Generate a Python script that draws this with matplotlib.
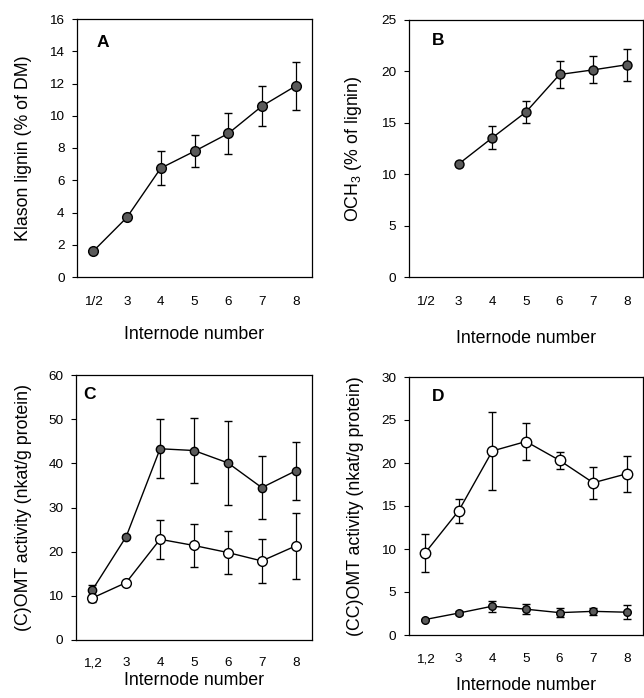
import matplotlib
matplotlib.use("Agg")
import matplotlib.pyplot as plt
import numpy as np

plt.rcParams['font.family'] = ['Liberation Sans', 'DejaVu Sans']
plt.rcParams['mathtext.fontset'] = 'custom'
plt.rcParams['mathtext.rm'] = 'Liberation Sans'
plt.rcParams['mathtext.it'] = 'Liberation Sans:italic'
plt.rcParams['mathtext.bf'] = 'Liberation Sans:bold'

# ---------------- data ----------------
labels_ab = ['1/2', '3', '4', '5', '6', '7', '8']
labels_cd = ['1,2', '3', '4', '5', '6', '7', '8']

klason = [1.6, 3.7, 6.75, 7.8, 8.9, 10.6, 11.85]
klason_err = [0.1, 0.1, 1.05, 1.0, 1.3, 1.25, 1.5]

och3 = [np.nan, 11.0, 13.55, 16.05, 19.7, 20.15, 20.65]
och3_err = [np.nan, 0.2, 1.1, 1.05, 1.35, 1.3, 1.55]

comt_filled = [11.3, 23.4, 43.3, 42.9, 40.1, 34.5, 38.3]
comt_filled_err = [1.1, 0.4, 6.7, 7.4, 9.5, 7.1, 6.6]
comt_open = [9.5, 13.0, 22.8, 21.4, 19.8, 17.9, 21.3]
comt_open_err = [0.8, 0.3, 4.4, 4.9, 4.8, 5.0, 7.5]

ccomt_open = [9.55, 14.45, 21.4, 22.5, 20.3, 17.7, 18.75]
ccomt_open_err = [2.2, 1.4, 4.5, 2.2, 1.0, 1.85, 2.1]
ccomt_filled = [1.8, 2.55, 3.35, 3.0, 2.6, 2.75, 2.65]
ccomt_filled_err = [0.1, 0.2, 0.65, 0.6, 0.55, 0.4, 0.8]

# ---------------- figure ----------------
W, H = 644, 698
fig = plt.figure(figsize=(W / 100, H / 100), dpi=100)

def frac(l, t, r, b):
    return [l / W, 1 - b / H, (r - l) / W, (b - t) / H]

axA = fig.add_axes(frac(77, 19, 312, 277))
axB = fig.add_axes(frac(409, 20, 643, 277))
axC = fig.add_axes(frac(76, 375, 312, 640))
axD = fig.add_axes(frac(409, 377, 643, 635))

FILL = '#5a5a5a'

def draw(ax, y, err, filled, ms):
    x = np.arange(len(y))
    ax.errorbar(x, y, yerr=err, fmt='-o', color='black', lw=1.0,
                elinewidth=0.9, capsize=3, capthick=0.9,
                mfc=FILL if filled else 'white', mec='black', mew=1.0,
                ms=ms, zorder=3 if filled else 4)

def style(ax, labels, ylim, yticks, ylabel, letter, letter_xy,
          ylab_x, xlab_y, xpad):
    ax.set_xlim(-0.48, 6.48)
    ax.set_ylim(*ylim)
    ax.set_yticks(yticks)
    ax.set_xticks(np.arange(len(labels)))
    ax.set_xticklabels(labels)
    ax.tick_params(axis='y', direction='out', length=3.5, width=0.8,
                   labelsize=9.7, pad=5.5)
    ax.tick_params(axis='x', length=0, labelsize=9.7, pad=xpad)
    for s in ax.spines.values():
        s.set_linewidth(0.9)
    ax.set_ylabel(ylabel, fontsize=12.8)
    ax.yaxis.set_label_coords(ylab_x, 0.5)
    ax.set_xlabel('Internode number', fontsize=12.8)
    ax.xaxis.set_label_coords(0.5, xlab_y)
    ax.text(letter_xy[0], letter_xy[1], letter, transform=ax.transAxes,
            fontsize=12.5, fontweight='bold', ha='left', va='center')

draw(axA, klason, klason_err, True, 7)
style(axA, labels_ab, (0, 16), range(0, 17, 2), 'Klason lignin (% of DM)',
      'A', (0.085, 0.91), -0.19, -0.19, 13.5)

draw(axB, och3, och3_err, True, 6.5)
style(axB, labels_ab, (0, 25), range(0, 26, 5), r'OCH$_3$ (% of lignin)',
      'B', (0.098, 0.922), -0.192, -0.205, 14)

draw(axC, comt_filled, comt_filled_err, True, 6)
draw(axC, comt_open, comt_open_err, False, 7)
style(axC, labels_cd, (0, 60), range(0, 61, 10),
      '(C)OMT activity (nkat/g protein)', 'C', (0.03, 0.928),
      -0.186, -0.12, 12.3)

draw(axD, ccomt_open, ccomt_open_err, False, 7.5)
draw(axD, ccomt_filled, ccomt_filled_err, True, 5.5)
style(axD, labels_cd, (0, 30), range(0, 31, 5),
      '(CC)OMT activity (nkat/g protein)', 'D', (0.098, 0.925),
      -0.192, -0.163, 13)

fig.savefig('out.png', dpi=100)
